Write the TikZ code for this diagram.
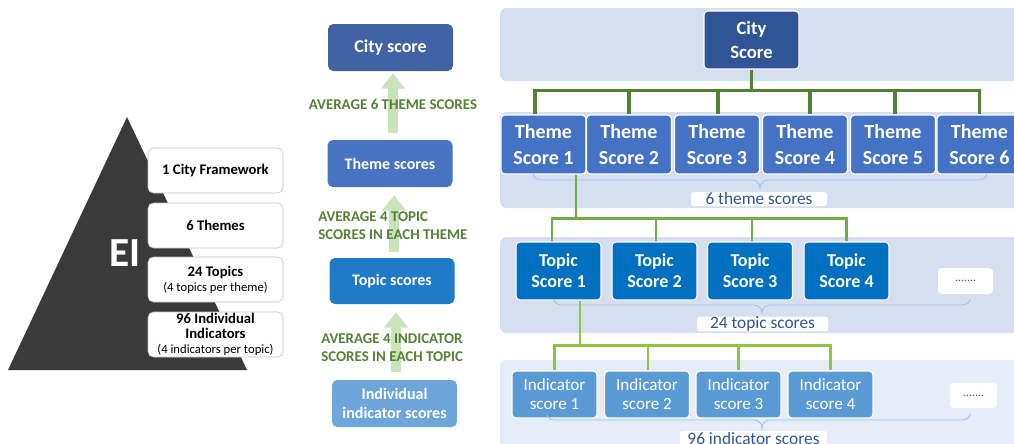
\documentclass[tikz,border=0pt]{standalone}
\usepackage{fontspec}
\setmainfont{Carlito}
\usetikzlibrary{calc,arrows.meta}
\definecolor{pyr}{HTML}{3A3A3A}
\definecolor{band}{HTML}{D5DFEF}
\definecolor{bandl}{HTML}{E6EDF7}
\definecolor{mcityc}{HTML}{4162A5}
\definecolor{mthemec}{HTML}{4872C2}
\definecolor{mtopicc}{HTML}{1F7AC8}
\definecolor{mindc}{HTML}{6EA5DB}
\definecolor{rcityc}{HTML}{2F5597}
\definecolor{rthemec}{HTML}{4472C4}
\definecolor{rtopicc}{HTML}{0070C0}
\definecolor{rindc}{HTML}{5B9BD5}
\definecolor{gtext}{HTML}{548235}
\definecolor{garrow}{HTML}{C9E3BA}
\definecolor{conA}{HTML}{548235}
\definecolor{conB}{HTML}{70AD47}
\definecolor{conC}{HTML}{8DC641}
\definecolor{brc}{HTML}{9DC3E6}
\definecolor{labc}{HTML}{2F5597}
\begin{document}
\begin{tikzpicture}[x=0.75pt,y=-0.75pt,
  pbox/.style={draw=black!25, fill=white, rounded corners=4pt, minimum width=101.25pt, minimum height=33.75pt, inner sep=0pt, align=center, font=\bfseries\fontsize{11}{11.3}\selectfont},
  mbox/.style={rounded corners=4pt, minimum width=93.75pt, minimum height=35.25pt, inner sep=0pt, align=center, text=white, font=\bfseries\fontsize{12}{14}\selectfont},
  gtxt/.style={text=gtext, inner sep=0pt, font=\bfseries\fontsize{11.2}{13.5}\selectfont},
  bigarr/.style={draw=garrow, line width=7.5pt, -{Triangle[width=17.5pt,length=11.5pt]}},
  bandbox/.style={fill=band, rounded corners=5pt},
  themebox/.style={fill=rthemec, draw=white, line width=0.8pt, rounded corners=3pt, minimum width=63.75pt, minimum height=44.25pt, inner sep=0pt, align=center, text=white, font=\bfseries\fontsize{15}{19.5}\selectfont},
  topicbox/.style={fill=rtopicc, draw=white, line width=0.8pt, rounded corners=3pt, minimum width=63.75pt, minimum height=43.5pt, inner sep=0pt, align=center, text=white, font=\bfseries\fontsize{13.6}{15.8}\selectfont},
  indbox/.style={fill=rindc, draw=white, line width=0.8pt, rounded corners=3pt, minimum width=63.75pt, minimum height=35.25pt, inner sep=0pt, align=center, text=white, font=\fontsize{12.8}{14.3}\selectfont},
  dotbox/.style={fill=white, rounded corners=3pt, inner sep=0pt, text=labc, font=\fontsize{9}{9}\selectfont},
  labbox/.style={fill=white, rounded corners=2pt, inner sep=0pt, text=labc, font=\fontsize{13}{13}\selectfont},
  brace/.style={draw=brc, line width=0.6pt},
  conn1/.style={draw=conA, line width=2.3pt},
  conn2/.style={draw=conB, line width=2.1pt},
  conn3/.style={draw=conC, line width=2.1pt}
]
\useasboundingbox (0,0) rectangle (1014,443);
\clip (0,0) rectangle (1014,443);

% ---------- pyramid ----------
\fill[pyr] (127,117) -- (247,370) -- (8,370) -- cycle;
\node[text=white, font=\bfseries\fontsize{31}{31}\selectfont, inner sep=0pt] (ei) at (125,253) {EI};
\node[pbox] (pb1) at (215.5,170.5) {1 City Framework};
\node[pbox] (pb2) at (215.5,225.5) {6 Themes};
\node[pbox] (pb3) at (215.5,279.5) {24 Topics\\{\mdseries\fontsize{9.5}{11}\selectfont (4 topics per theme)}};
\node[pbox] (pb4) at (215.5,334.5) {96 Individual\\Indicators\\{\mdseries\fontsize{9.5}{11}\selectfont (4 indicators per topic)}};

% ---------- middle column ----------
\node[mbox, fill=mcityc, font=\bfseries\fontsize{13.5}{14}\selectfont] (mcity) at (390.5,47.5) {City score};
\node[mbox, fill=mthemec] (mtheme) at (390,163.5) {Theme scores};
\node[mbox, fill=mtopicc, minimum height=34.5pt] (mtopic) at (392,281) {Topic scores};
\node[mbox, fill=mindc] (mind) at (394.5,403.5) {Individual\\indicator scores};

\draw[bigarr] ($(mtheme.north)+(3,-7)$) -- ($(mcity.south)+(2.5,2)$);
\draw[bigarr] ($(mtopic.north)+(2,-6)$) -- ($(mtheme.south)+(4,8)$);
\draw[bigarr] ($(mind.north)+(1.5,-8)$) -- ($(mtopic.south)+(4,8)$);

\node[gtxt] (g1) at (393,104) {AVERAGE 6 THEME SCORES};
\node[gtxt, anchor=west, align=left] (g2) at (318,226) {AVERAGE 4 TOPIC\\SCORES IN EACH THEME};
\node[gtxt, anchor=west, align=left] (g3) at (321,347.5) {AVERAGE 4 INDICATOR\\SCORES IN EACH TOPIC};

% ---------- right panel bands ----------
\fill[bandbox] (500,8) rectangle (1030,81);
\fill[bandbox] (500,112) rectangle (1030,208);
\fill[bandbox] (500,237) rectangle (1030,333);
\fill[bandbox, fill=bandl] (500,360) rectangle (1030,470);

% city
\node[fill=rcityc, draw=white, line width=0.8pt, rounded corners=3pt, minimum width=71.25pt, minimum height=43.5pt, inner sep=0pt, align=center, text=white, font=\bfseries\fontsize{14}{17.5}\selectfont] (rcity) at (751.5,40) {City\\Score};

% themes
\node[themebox] (t1) at (543.5,144.5) {Theme\\Score 1};
\node[themebox] (t2) at (629,144.5) {Theme\\Score 2};
\node[themebox] (t3) at (717,144.5) {Theme\\Score 3};
\node[themebox] (t4) at (805,144.5) {Theme\\Score 4};
\node[themebox] (t5) at (893,144.5) {Theme\\Score 5};
\node[themebox] (t6) at (979.5,144.5) {Theme\\Score 6};

\draw[conn1] (rcity.south) -- ++(0,22);
\draw[conn1] ($(t1.north)+(-8.5,0)$) -- ++(0,-24) -| (t6.north);
\draw[conn1] (t2.north) -- ++(0,-24);
\draw[conn1] ($(t3.north)+(1,0)$) -- ++(0,-24);
\draw[conn1] ($(t4.north)+(5,0)$) -- ++(0,-24);
\draw[conn1] ($(t5.north)+(2,0)$) -- ++(0,-24);

\draw[brace] (533,173) to[out=270,in=180] (541,180) -- (752,180) to[out=0,in=90] (760,188) to[out=90,in=180] (768,180) -- (979,180) to[out=0,in=270] (987,173);
\node[labbox, minimum width=102pt, minimum height=10.5pt] (lab1) at (759,199) {6 theme scores};

% topics
\node[topicbox] (tp1) at (558.5,271) {Topic\\Score 1};
\node[topicbox] (tp2) at (654.5,271) {Topic\\Score 2};
\node[topicbox] (tp3) at (750,271) {Topic\\Score 3};
\node[topicbox] (tp4) at (846.5,271) {Topic\\Score 4};
\node[dotbox, minimum width=41.25pt, minimum height=19.5pt] (d1) at (965.5,281) {.......};

\draw[conn2] ($(t1.south)+(32.5,0)$) -- ++(0,45);
\draw[conn2] ($(tp1.north)+(-6.5,0)$) -- ++(0,-23) -| (tp4.north);
\draw[conn2] ($(tp2.north)+(1.5,0)$) -- ++(0,-23);
\draw[conn2] ($(tp3.north)+(2,0)$) -- ++(0,-23);

\draw[brace] (554,299) to[out=270,in=180] (562,305) -- (754,305) to[out=0,in=90] (762,313) to[out=90,in=180] (770,305) -- (962,305) to[out=0,in=270] (970,299);
\node[labbox, minimum width=98.25pt, minimum height=10.5pt] (lab2) at (762.5,324) {24 topic scores};

% indicators
\node[indbox] (i1) at (554.5,394.5) {Indicator\\score 1};
\node[indbox] (i2) at (647,394.5) {Indicator\\score 2};
\node[indbox] (i3) at (738.5,394.5) {Indicator\\score 3};
\node[indbox] (i4) at (830.5,394.5) {Indicator\\score 4};
\node[dotbox, minimum width=35.25pt, minimum height=18.75pt] (d2) at (973.5,395.5) {.......};

\draw[conn3] ($(tp1.south)+(21.5,0)$) -- ++(0,46);
\draw[conn3] (i1.north) -- ++(0,-25) -| (i4.north);
\draw[conn3] ($(i2.north)+(1,0)$) -- ++(0,-25);
\draw[conn3] (i3.north) -- ++(0,-25);

\draw[brace] (547,414) to[out=270,in=180] (555,420) -- (754,420) to[out=0,in=90] (762,428) to[out=90,in=180] (770,420) -- (962,420) to[out=0,in=270] (970,414);
\node[labbox, minimum width=110.25pt, minimum height=12pt] (lab3) at (753.5,439) {96 indicator scores};
\end{tikzpicture}
\end{document}
